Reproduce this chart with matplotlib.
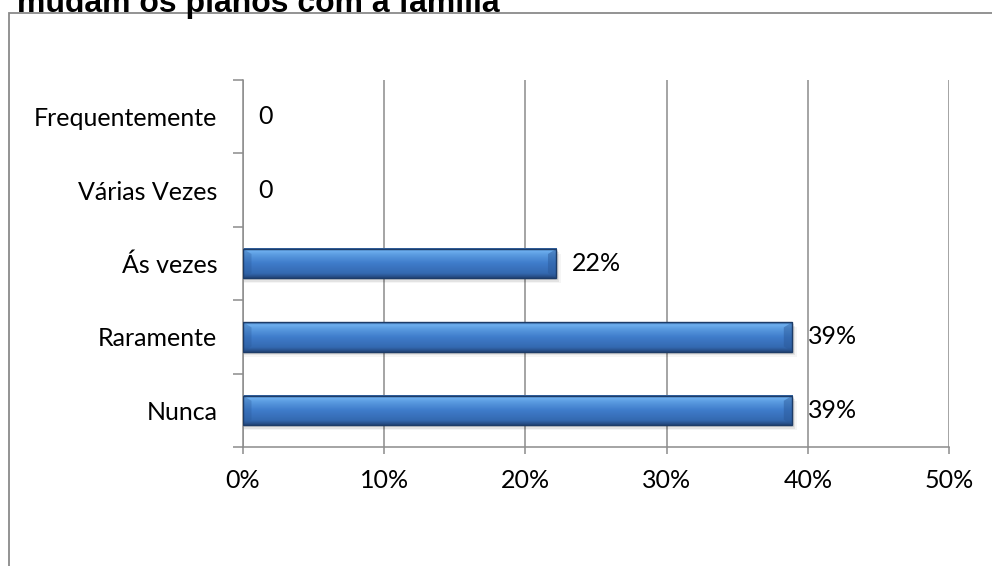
import numpy as np
import matplotlib
matplotlib.use("Agg")
import matplotlib.pyplot as plt
from matplotlib.patches import Rectangle
from matplotlib.colors import LinearSegmentedColormap

categories = ['Nunca', 'Raramente', 'Ás vezes', 'Várias Vezes', 'Frequentemente']
values = [38.9, 38.9, 22.2, 0, 0]
labels = ['39%', '39%', '22%', '0', '0']
xticks = [0, 10, 20, 30, 40, 50]
title = 'mudam os planos com a família'

GRID = '#8c8c8c'
FONT = 'Lato'
FS = 18

fig = plt.figure(figsize=(9.92, 5.66), dpi=100)
ax = fig.add_axes([243/992, 1 - 447/566, (949-243)/992, (447-80)/566])

# bevelled blue gradient, top to bottom
grad = LinearSegmentedColormap.from_list('bar', [
    (0.0, '#2b5a98'), (0.08, '#6fb0f0'), (0.22, '#5a9be0'),
    (0.5, '#3f7ccb'), (0.85, '#3469b0'), (1.0, '#23467a')])
g = np.linspace(0, 1, 64).reshape(-1, 1)

h = 0.4
for i, v in enumerate(values):
    if v <= 0:
        continue
    # soft shadow
    for k, a in enumerate([0.10, 0.07, 0.04]):
        ax.add_patch(Rectangle((0.1, i - h/2 - 0.03 - 0.02*k), v + 0.1*k, h,
                               color='black', alpha=a, lw=0, zorder=1))
    ax.imshow(g, cmap=grad, aspect='auto', extent=[0, v, i - h/2, i + h/2],
              origin='upper', zorder=2, interpolation='bilinear')
    # bevel ends
    d = 0.6
    ax.fill([v, v - d, v - d, v], [i + h/2, i + h/2 - 0.07, i - h/2 + 0.07, i - h/2],
            color='#2a5796', alpha=0.45, lw=0, zorder=2.5)
    ax.fill([0, d, d, 0], [i + h/2, i + h/2 - 0.07, i - h/2 + 0.07, i - h/2],
            color='#2a5796', alpha=0.3, lw=0, zorder=2.5)
    ax.add_patch(Rectangle((0, i - h/2), v, h, fill=False, ec='#1d3c68', lw=1.0, zorder=3))

for i, (v, lab) in enumerate(zip(values, labels)):
    ax.annotate(lab, (v, i), xytext=(11, 0), textcoords='offset points',
                va='center', ha='left', fontsize=FS, family=FONT, color='black')

ax.set_xlim(0, 50)
ax.set_ylim(-0.5, 4.5)
ax.set_xticks(xticks)
ax.set_xticklabels([f'{t}%' for t in xticks], fontsize=FS, family=FONT)
ax.set_yticks(np.arange(-0.5, 5, 1))
ax.set_yticklabels([])
ax.set_yticks(range(len(categories)), minor=True)
ax.set_yticklabels(categories, minor=True, fontsize=FS, family=FONT)
ax.tick_params(axis='y', which='major', length=7.2, width=1.1, color=GRID, direction='out')
ax.tick_params(axis='y', which='minor', length=0, pad=18.5)
ax.tick_params(axis='x', length=5, width=1.1, color=GRID, pad=11)

ax.grid(axis='x', color=GRID, lw=1.1, zorder=0)
ax.set_axisbelow(True)
for s in ['top', 'right']:
    ax.spines[s].set_visible(False)
for s in ['left', 'bottom']:
    ax.spines[s].set_color(GRID)
    ax.spines[s].set_linewidth(1.1)

fig.add_artist(Rectangle((9/992, -0.1), 1.2, (566-13)/566 + 0.1, transform=fig.transFigure,
                         fill=False, ec='#8a8a8a', lw=1.3))
fig.text(17/992, 1 - 12/566, title, fontsize=23, fontweight='bold',
         family='Liberation Sans', va='baseline', ha='left')

fig.savefig('out.png', dpi=100)
